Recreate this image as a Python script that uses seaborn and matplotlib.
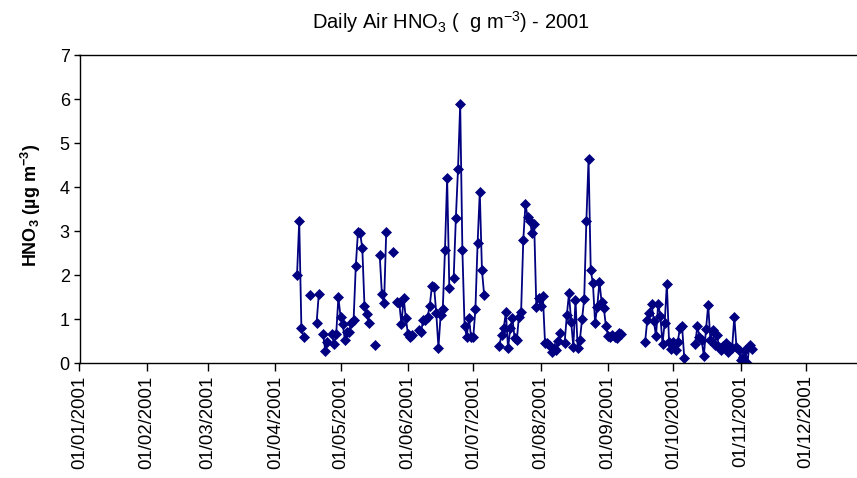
import matplotlib
matplotlib.use("Agg")
import matplotlib.pyplot as plt
import matplotlib.dates as mdates
import pandas as pd
import seaborn as sns

# Daily HNO3 concentrations (µg m-3), 2001: each run is a block of
# consecutive sampling days; days between runs are missing.
run_starts = [
    "2001-04-11", "2001-04-17", "2001-04-20", "2001-04-23", "2001-04-27",
    "2001-05-17", "2001-05-19", "2001-05-25", "2001-05-27", "2001-06-06",
    "2001-06-22", "2001-07-13", "2001-08-12", "2001-09-18", "2001-10-11",
]
run_values = [
    [2.00, 3.23, 0.80, 0.58],
    [1.55],
    [0.92, 1.57],
    [0.65, 0.27, 0.47],
    [0.65, 0.43, 0.66, 1.49, 1.05, 0.88, 0.52, 0.70, 0.71, 0.90, 0.98,
     2.20, 2.98, 2.95, 2.61, 1.30, 1.11, 0.92],
    [0.42],
    [2.45, 1.57, 1.36, 2.98],
    [2.52],
    [1.39, 1.36, 0.88, 1.48, 1.02, 0.65, 0.60, 0.64],
    [0.75, 0.71, 0.98, 0.98, 1.05, 1.30, 1.75, 1.73, 1.13, 0.35, 1.09,
     1.23, 2.57, 4.20, 1.70],
    [1.94, 3.29, 4.42, 5.89, 2.57, 0.85, 0.59, 1.02, 0.59, 0.58, 1.23,
     2.73, 3.89, 2.11, 1.55],
    [0.39, 0.64, 0.79, 1.15, 0.33, 0.79, 1.02, 0.56, 0.52, 1.05, 1.17,
     2.80, 3.61, 3.31, 3.23, 2.96, 3.17, 1.27, 1.47, 1.30, 1.52, 0.45,
     0.45, 0.40, 0.24, 0.35, 0.30, 0.50, 0.68],
    [0.46, 1.08, 1.58, 0.94, 0.37, 1.43, 0.35, 0.52, 0.99, 1.46, 3.23,
     4.64, 2.11, 1.81, 0.92, 1.28, 1.85, 1.38, 1.26, 0.83, 0.62, 0.58,
     0.64, 0.60, 0.56, 0.68, 0.65],
    [0.48, 0.98, 1.14, 1.34, 0.96, 0.61, 1.34, 1.07, 0.44, 0.92, 1.80,
     0.48, 0.32, 0.47, 0.30, 0.48, 0.80, 0.83, 0.11],
    [0.43, 0.83, 0.60, 0.52, 0.16, 0.77, 1.32, 0.52, 0.75, 0.41, 0.64,
     0.36, 0.30, 0.38, 0.45, 0.26, 0.36, 0.34, 1.05, 0.36, 0.30, 0.07,
     0.14, 0.30, 0.00, 0.41, 0.31],
]
y_ticks = [0, 1, 2, 3, 4, 5, 6, 7]
month_ticks = pd.date_range("2001-01-01", "2001-12-01", freq="MS")

rows = []
for run_id, (start, vals) in enumerate(zip(run_starts, run_values)):
    for day, val in zip(pd.date_range(start, periods=len(vals), freq="D"), vals):
        rows.append((day, val, run_id))
df = pd.DataFrame(rows, columns=["date", "hno3", "run"])

sns.set_style("white")
plt.rcParams["font.family"] = ["Liberation Sans", "DejaVu Sans"]
plt.rcParams["mathtext.default"] = "regular"
plt.rcParams["axes.unicode_minus"] = False
for key in ("text.color", "axes.labelcolor", "xtick.color", "ytick.color"):
    plt.rcParams[key] = "black"

navy = "#000080"
W, H = 857, 478
fig = plt.figure(figsize=(W / 100, H / 100), dpi=100)
ax = fig.add_axes([79.5 / W, 1 - 363 / H, (W - 79.5) / W, (363 - 55) / H])

sns.lineplot(
    data=df, x="date", y="hno3", units="run", estimator=None,
    color=navy, linewidth=1.3, marker="D", markersize=5.2,
    markeredgecolor=navy, markeredgewidth=0.5, ax=ax, legend=False,
)

x0 = pd.Timestamp("2001-01-01")
ax.set_xlim(x0, x0 + pd.Timedelta(days=357.4))
ax.set_ylim(0, 7)
ax.set_yticks(y_ticks)
ax.set_xticks(month_ticks)
ax.xaxis.set_major_formatter(mdates.DateFormatter("%d/%m/%Y"))
ax.tick_params(axis="x", direction="out", length=6, width=1, color="black",
               labelcolor="black", labelsize=13.4, pad=3, labelrotation=90,
               bottom=True)
ax.tick_params(axis="y", direction="out", length=4, width=1, color="black",
               labelcolor="black", labelsize=13, pad=3, left=True)
ax.set_xlabel("")
ax.set_ylabel("")

for side in ("left", "bottom", "top"):
    ax.spines[side].set_color("black")
    ax.spines[side].set_linewidth(1.0)
ax.spines["right"].set_visible(False)

fig.text(450.5 / W, 1 - 22 / H, "Daily Air HNO$_3$ (  g m$^{-3}$) - 2001",
         ha="center", va="center", fontsize=14.5, color="black")
fig.text(31 / W, 1 - 205 / H, "HNO$_3$ (µg m$^{-3}$)", rotation=90,
         ha="center", va="center", fontsize=13, fontweight="bold",
         color="black")

fig.savefig("out.png", dpi=100, facecolor="white")
